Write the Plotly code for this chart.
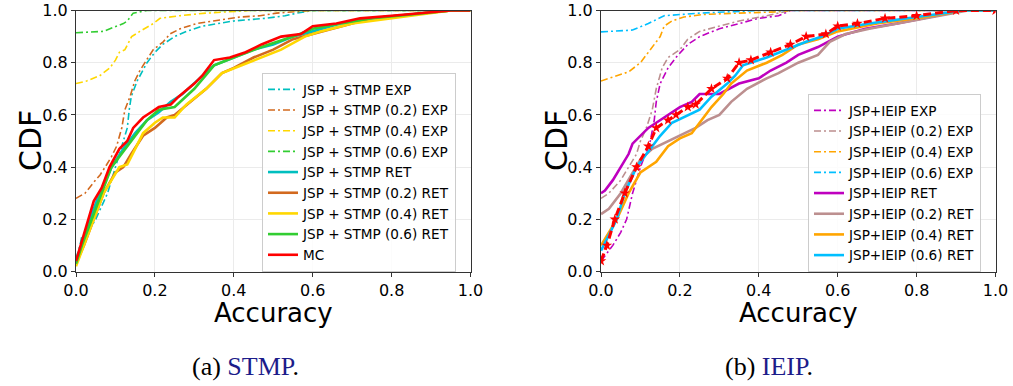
import plotly.graph_objects as go

# ---------------- data (a) STMP ----------------
stmp_exp_x = [0.0, 0.01, 0.014, 0.03, 0.05, 0.08, 0.10, 0.12, 0.13, 0.135, 0.14, 0.155, 0.18, 0.20, 0.22, 0.25, 0.28, 0.32, 0.40, 0.48, 0.53, 0.56, 0.60, 1.0]
stmp_exp_y = [0.05, 0.10, 0.13, 0.15, 0.20, 0.30, 0.40, 0.50, 0.55, 0.62, 0.67, 0.73, 0.80, 0.84, 0.87, 0.90, 0.92, 0.94, 0.96, 0.97, 0.98, 0.99, 1.0, 1.0]

stmp02_exp_x = [0.0, 0.023, 0.044, 0.061, 0.078, 0.09, 0.103, 0.116, 0.124, 0.137, 0.149, 0.162, 0.183, 0.196, 0.221, 0.238, 0.264, 0.306, 0.348, 0.416, 0.466, 0.508, 0.60, 1.0]
stmp02_exp_y = [0.28, 0.30, 0.34, 0.37, 0.41, 0.44, 0.48, 0.55, 0.62, 0.67, 0.73, 0.77, 0.82, 0.85, 0.88, 0.91, 0.93, 0.95, 0.96, 0.975, 0.98, 0.99, 1.0, 1.0]

stmp04_exp_x = [0.0, 0.027, 0.06, 0.086, 0.10, 0.11, 0.124, 0.141, 0.162, 0.196, 0.213, 0.263, 0.33, 0.44, 1.0]
stmp04_exp_y = [0.72, 0.73, 0.75, 0.78, 0.81, 0.84, 0.85, 0.90, 0.92, 0.95, 0.97, 0.98, 0.99, 1.0, 1.0]

stmp06_exp_x = [0.0, 0.069, 0.12, 0.13, 0.145, 0.18, 1.0]
stmp06_exp_y = [0.915, 0.92, 0.95, 0.96, 0.99, 1.0, 1.0]

stmp_ret_x = [0.0, 0.015, 0.035, 0.06, 0.09, 0.12, 0.15, 0.18, 0.21, 0.24, 0.27, 0.30, 0.33, 0.35, 0.40, 0.45, 0.50, 0.55, 0.60, 0.67, 0.75, 0.85, 0.95, 1.0]
stmp_ret_y = [0.04, 0.10, 0.20, 0.30, 0.40, 0.47, 0.53, 0.58, 0.61, 0.65, 0.68, 0.72, 0.76, 0.79, 0.82, 0.85, 0.87, 0.90, 0.92, 0.95, 0.97, 0.985, 1.0, 1.0]

stmp02_ret_x = [0.0, 0.02, 0.045, 0.07, 0.10, 0.12, 0.14, 0.17, 0.20, 0.23, 0.25, 0.29, 0.33, 0.37, 0.40, 0.45, 0.50, 0.55, 0.60, 0.67, 0.75, 0.85, 0.95, 1.0]
stmp02_ret_y = [0.03, 0.10, 0.20, 0.30, 0.38, 0.40, 0.45, 0.52, 0.55, 0.59, 0.60, 0.65, 0.70, 0.76, 0.78, 0.82, 0.85, 0.89, 0.91, 0.94, 0.97, 0.985, 1.0, 1.0]

stmp04_ret_x = [0.0, 0.02, 0.045, 0.07, 0.11, 0.13, 0.15, 0.17, 0.20, 0.22, 0.25, 0.28, 0.33, 0.37, 0.42, 0.47, 0.52, 0.58, 0.62, 0.70, 0.80, 0.95, 1.0]
stmp04_ret_y = [0.02, 0.10, 0.20, 0.30, 0.40, 0.41, 0.47, 0.53, 0.57, 0.59, 0.59, 0.64, 0.70, 0.76, 0.79, 0.82, 0.85, 0.90, 0.92, 0.95, 0.97, 1.0, 1.0]

stmp06_ret_x = [0.0, 0.015, 0.04, 0.065, 0.09, 0.12, 0.15, 0.18, 0.21, 0.25, 0.30, 0.35, 0.40, 0.47, 0.55, 0.60, 0.67, 0.75, 0.85, 0.95, 1.0]
stmp06_ret_y = [0.03, 0.10, 0.20, 0.30, 0.40, 0.46, 0.52, 0.58, 0.62, 0.63, 0.70, 0.79, 0.82, 0.86, 0.90, 0.93, 0.95, 0.97, 0.985, 1.0, 1.0]

mc_a_x = [0.0, 0.012, 0.03, 0.045, 0.065, 0.085, 0.11, 0.13, 0.145, 0.17, 0.19, 0.21, 0.24, 0.26, 0.30, 0.32, 0.33, 0.35, 0.39, 0.43, 0.47, 0.52, 0.57, 0.60, 0.66, 0.72, 0.80, 0.87, 0.95, 1.0]
mc_a_y = [0.04, 0.10, 0.20, 0.27, 0.32, 0.40, 0.47, 0.50, 0.55, 0.59, 0.61, 0.63, 0.64, 0.67, 0.72, 0.75, 0.77, 0.81, 0.82, 0.84, 0.87, 0.90, 0.91, 0.94, 0.95, 0.97, 0.98, 0.99, 1.0, 1.0]

# ---------------- data (b) IEIP ----------------
ieip_exp_x = [0.0, 0.03, 0.05, 0.065, 0.08, 0.10, 0.125, 0.135, 0.14, 0.15, 0.17, 0.19, 0.22, 0.25, 0.30, 0.35, 0.40, 0.45, 0.48, 1.0]
ieip_exp_y = [0.04, 0.10, 0.15, 0.20, 0.30, 0.40, 0.50, 0.58, 0.65, 0.72, 0.78, 0.82, 0.87, 0.90, 0.93, 0.95, 0.97, 0.98, 1.0, 1.0]

ieip02_exp_x = [0.0, 0.02, 0.05, 0.07, 0.09, 0.10, 0.115, 0.13, 0.14, 0.155, 0.17, 0.20, 0.22, 0.25, 0.30, 0.35, 0.42, 0.48, 1.0]
ieip02_exp_y = [0.28, 0.30, 0.35, 0.40, 0.45, 0.50, 0.55, 0.62, 0.70, 0.78, 0.82, 0.85, 0.89, 0.92, 0.94, 0.96, 0.98, 1.0, 1.0]

ieip04_exp_x = [0.0, 0.07, 0.10, 0.12, 0.14, 0.15, 0.16, 0.18, 0.21, 0.26, 0.35, 0.45, 0.48, 1.0]
ieip04_exp_y = [0.73, 0.765, 0.80, 0.84, 0.88, 0.90, 0.94, 0.96, 0.975, 0.985, 0.99, 0.995, 1.0, 1.0]

ieip06_exp_x = [0.0, 0.08, 0.12, 0.16, 0.25, 0.33, 0.40, 1.0]
ieip06_exp_y = [0.918, 0.925, 0.95, 0.98, 0.99, 0.995, 1.0, 1.0]

ieip_ret_x = [0.0, 0.01, 0.03, 0.05, 0.07, 0.08, 0.10, 0.12, 0.14, 0.17, 0.20, 0.23, 0.25, 0.30, 0.35, 0.40, 0.43, 0.47, 0.50, 0.55, 0.60, 0.67, 0.75, 0.85, 0.92, 1.0]
ieip_ret_y = [0.30, 0.31, 0.35, 0.40, 0.45, 0.49, 0.52, 0.55, 0.57, 0.60, 0.63, 0.65, 0.68, 0.68, 0.72, 0.74, 0.77, 0.80, 0.83, 0.86, 0.90, 0.93, 0.95, 0.98, 1.0, 1.0]

ieip02_ret_x = [0.0, 0.02, 0.05, 0.08, 0.10, 0.13, 0.17, 0.20, 0.24, 0.27, 0.30, 0.33, 0.37, 0.42, 0.45, 0.50, 0.55, 0.58, 0.62, 0.68, 0.75, 0.83, 0.93, 1.0]
ieip02_ret_y = [0.22, 0.24, 0.30, 0.38, 0.43, 0.47, 0.50, 0.52, 0.55, 0.58, 0.60, 0.65, 0.70, 0.74, 0.76, 0.80, 0.83, 0.88, 0.91, 0.93, 0.95, 0.97, 1.0, 1.0]

ieip04_ret_x = [0.0, 0.04, 0.07, 0.10, 0.14, 0.17, 0.20, 0.23, 0.25, 0.28, 0.31, 0.33, 0.37, 0.42, 0.46, 0.50, 0.55, 0.60, 0.70, 0.80, 0.92, 1.0]
ieip04_ret_y = [0.10, 0.20, 0.30, 0.38, 0.42, 0.48, 0.51, 0.53, 0.57, 0.63, 0.68, 0.72, 0.77, 0.80, 0.83, 0.87, 0.89, 0.92, 0.95, 0.97, 1.0, 1.0]

ieip06_ret_x = [0.0, 0.04, 0.06, 0.09, 0.12, 0.15, 0.18, 0.22, 0.25, 0.28, 0.32, 0.34, 0.36, 0.42, 0.47, 0.52, 0.56, 0.60, 0.68, 0.78, 0.92, 1.0]
ieip06_ret_y = [0.08, 0.20, 0.30, 0.40, 0.46, 0.52, 0.57, 0.60, 0.62, 0.67, 0.72, 0.75, 0.79, 0.82, 0.85, 0.88, 0.90, 0.93, 0.95, 0.97, 1.0, 1.0]

mc_b_x = [0.0, 0.015, 0.035, 0.06, 0.09, 0.12, 0.14, 0.17, 0.19, 0.22, 0.24, 0.28, 0.32, 0.35, 0.38, 0.43, 0.48, 0.52, 0.57, 0.60, 0.65, 0.72, 0.80, 0.90, 1.0]
mc_b_y = [0.04, 0.10, 0.20, 0.30, 0.40, 0.48, 0.55, 0.58, 0.60, 0.63, 0.64, 0.70, 0.74, 0.80, 0.81, 0.84, 0.87, 0.90, 0.91, 0.94, 0.95, 0.97, 0.98, 1.0, 1.0]

# ---------------- figure ----------------
W, H = 1013, 386
DASHDOT = "7px,3px,2px,3px"
fig = go.Figure()

def add(x, y, name, color, exp, axis, legend, width=None, dash=None, marker=None):
    xa, ya = ("x", "y") if axis == 1 else ("x2", "y2")
    line = dict(color=color, width=width or (1.6 if exp else 2.6))
    if exp:
        line["dash"] = DASHDOT
    if dash:
        line["dash"] = dash
    kw = dict(x=x, y=y, name=name, xaxis=xa, yaxis=ya, line=line,
              showlegend=legend is not None)
    if legend is not None:
        kw["legend"] = legend
    if marker:
        kw["mode"] = "lines+markers"
        kw["marker"] = marker
    else:
        kw["mode"] = "lines"
    fig.add_trace(go.Scatter(**kw))

C_CYAN, C_CHOC, C_GOLD, C_LIME = "#00bfbf", "#d2691e", "#ffd700", "#32cd32"
C_MAG, C_ROSY, C_ORNG, C_SKY = "#bf00bf", "#bc8f8f", "#ffa500", "#00bfff"

# left
add(stmp_exp_x, stmp_exp_y, "JSP + STMP EXP", C_CYAN, True, 1, "legend")
add(stmp02_exp_x, stmp02_exp_y, "JSP + STMP (0.2) EXP", C_CHOC, True, 1, "legend")
add(stmp04_exp_x, stmp04_exp_y, "JSP + STMP (0.4) EXP", C_GOLD, True, 1, "legend")
add(stmp06_exp_x, stmp06_exp_y, "JSP + STMP (0.6) EXP", C_LIME, True, 1, "legend")
add(stmp_ret_x, stmp_ret_y, "JSP + STMP RET", C_CYAN, False, 1, "legend")
add(stmp02_ret_x, stmp02_ret_y, "JSP + STMP (0.2) RET", C_CHOC, False, 1, "legend")
add(stmp04_ret_x, stmp04_ret_y, "JSP + STMP (0.4) RET", C_GOLD, False, 1, "legend")
add(stmp06_ret_x, stmp06_ret_y, "JSP + STMP (0.6) RET", C_LIME, False, 1, "legend")
add(mc_a_x, mc_a_y, "MC", "#ff0000", False, 1, "legend")

# right
add(ieip_exp_x, ieip_exp_y, "JSP+IEIP EXP", C_MAG, True, 2, "legend2")
add(ieip02_exp_x, ieip02_exp_y, "JSP+IEIP (0.2) EXP", C_ROSY, True, 2, "legend2")
add(ieip04_exp_x, ieip04_exp_y, "JSP+IEIP (0.4) EXP", C_ORNG, True, 2, "legend2")
add(ieip06_exp_x, ieip06_exp_y, "JSP+IEIP (0.6) EXP", C_SKY, True, 2, "legend2")
add(ieip_ret_x, ieip_ret_y, "JSP+IEIP RET", C_MAG, False, 2, "legend2")
add(ieip02_ret_x, ieip02_ret_y, "JSP+IEIP (0.2) RET", C_ROSY, False, 2, "legend2")
add(ieip04_ret_x, ieip04_ret_y, "JSP+IEIP (0.4) RET", C_ORNG, False, 2, "legend2")
add(ieip06_ret_x, ieip06_ret_y, "JSP+IEIP (0.6) RET", C_SKY, False, 2, "legend2")
add(mc_b_x, mc_b_y, "MC", "#ff0000", False, 2, None, width=3, dash="8px,4px",
    marker=dict(symbol="star", size=8, color="#ff0000", line=dict(width=0)))


def px_x(p):
    return p / W


def px_y(p):
    return 1 - p / H


ax_common = dict(range=[0, 1], tickvals=[0, 0.2, 0.4, 0.6, 0.8, 1.0],
                 ticktext=["0.0", "0.2", "0.4", "0.6", "0.8", "1.0"],
                 showgrid=True, gridcolor="#ebebeb", gridwidth=1,
                 showline=True, linecolor="#333333", linewidth=1.2, mirror=True,
                 ticks="outside", ticklen=4, tickcolor="#333333",
                 tickfont=dict(family="DejaVu Sans", size=16, color="#000000"),
                 zeroline=False, automargin=False, fixedrange=True)

yd = [px_y(271.5), px_y(10.5)]
leg_common = dict(xanchor="left", yanchor="top",
                  bgcolor="rgba(255,255,255,0.85)", bordercolor="#cccccc", borderwidth=1,
                  font=dict(family="DejaVu Sans", size=13.6, color="#000000"),
                  itemwidth=30, tracegroupgap=0)
fig.update_layout(
    width=W, height=H, margin=dict(l=0, r=0, t=0, b=0),
    paper_bgcolor="white", plot_bgcolor="white",
    xaxis=dict(domain=[px_x(76), px_x(470.5)], anchor="y", **ax_common),
    yaxis=dict(domain=yd, anchor="x", **ax_common),
    xaxis2=dict(domain=[px_x(601), px_x(995.5)], anchor="y2", **ax_common),
    yaxis2=dict(domain=yd, anchor="x2", **ax_common),
    legend=dict(x=px_x(262), y=px_y(73), **leg_common),
    legend2=dict(x=px_x(808), y=px_y(94), **leg_common),
    showlegend=True,
)

title_font = dict(family="DejaVu Sans", color="#000000")
ann = []
for cx_axis, cx_plot in [(30, 273), (556, 798)]:
    ann.append(dict(text="CDF", x=px_x(cx_axis), y=px_y(141), xref="paper", yref="paper",
                    xanchor="center", yanchor="middle",
                    showarrow=False, textangle=-90, font=dict(size=30, **title_font)))
    ann.append(dict(text="Accuracy", x=px_x(cx_plot), y=px_y(313), xref="paper", yref="paper",
                    xanchor="center", yanchor="middle",
                    showarrow=False, font=dict(size=26, **title_font)))
cap_font = dict(family="Liberation Serif", size=26, color="#000000")
ann.append(dict(text="(a) <span style='color:#1c1c8a'>STMP</span>.", x=px_x(245), y=px_y(366),
                xref="paper", yref="paper", xanchor="center", yanchor="middle",
                showarrow=False, font=cap_font))
ann.append(dict(text="(b) <span style='color:#1c1c8a'>IEIP</span>.", x=px_x(769), y=px_y(366),
                xref="paper", yref="paper", xanchor="center", yanchor="middle",
                showarrow=False, font=cap_font))
fig.update_layout(annotations=ann)

fig.write_html("out.html", config={"displayModeBar": False},
               post_script="document.body.style.margin='0px';")
